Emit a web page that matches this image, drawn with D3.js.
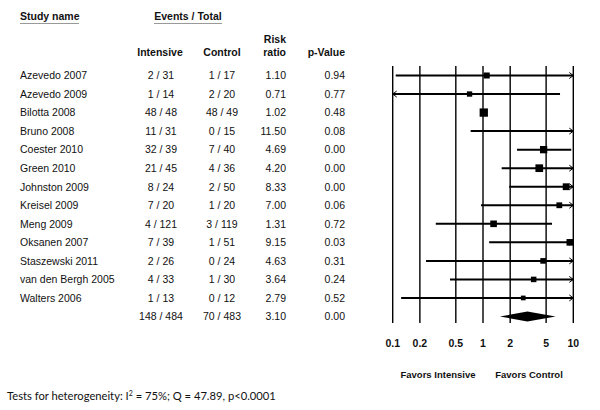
<!DOCTYPE html>
<html>
<head>
<meta charset="utf-8">
<script src="https://cdn.jsdelivr.net/npm/d3@7"></script>
<style>
  body { margin: 0; background: #fff; }
  svg text { font-family: "Liberation Sans", Arial, sans-serif; fill: #111; }
</style>
</head>
<body>
<div id="chart"></div>
<script>
// study table
const studies = ["Azevedo 2007", "Azevedo 2009", "Bilotta 2008", "Bruno 2008", "Coester 2010", "Green 2010",
    "Johnston 2009", "Kreisel 2009", "Meng 2009", "Oksanen 2007", "Staszewski 2011", "van den Bergh 2005", "Walters 2006", ""];
const intensive = ["2 / 31", "1 / 14", "48 / 48", "11 / 31", "32 / 39", "21 / 45", "8 / 24", "7 / 20", "4 / 121", "7 / 39", "2 / 26", "4 / 33", "1 / 13", "148 / 484"];
const control = ["1 / 17", "2 / 20", "48 / 49", "0 / 15", "7 / 40", "4 / 36", "2 / 50", "1 / 20", "3 / 119", "1 / 51", "0 / 24", "1 / 30", "0 / 12", "70 / 483"];
const riskRatio = [1.10, 0.71, 1.02, 11.50, 4.69, 4.20, 8.33, 7.00, 1.31, 9.15, 4.63, 3.64, 2.79, 3.10];
const pValue = [0.94, 0.77, 0.48, 0.08, 0.00, 0.00, 0.00, 0.06, 0.72, 0.03, 0.31, 0.24, 0.52, 0.00];
// confidence limits (values beyond the axis get arrows)
const lower = [0.108, 0.05, 0.96, 0.73, 2.38, 1.61, 1.95, 0.95, 0.30, 1.17, 0.234, 0.431, 0.124, 1.54];
const upper = [40, 7.13, 1.08, 180, 9.5, 11.0, 35, 51, 5.81, 70, 92, 30, 63, 6.38];
// relative study weights (marker size)
const weights = [6, 5.3, 8.3, 0, 7.3, 7.7, 6.8, 5.8, 6.6, 6.6, 5.6, 5.5, 4.7];
const ticks = [0.1, 0.2, 0.5, 1, 2, 5, 10];

const width = 600, height = 410;

const svg = d3.select("#chart").append("svg")
    .attr("width", width)
    .attr("height", height);

const x = d3.scaleLog().domain([0.1, 10]).range([392.7, 573.3]);
const y = d3.scalePoint().domain(d3.range(studies.length)).range([75.5, 316.5]);

// headers
const hdr = svg.append("g").style("font-weight", "bold").style("font-size", "10.5px");
hdr.append("text").attr("x", 20).attr("y", 19.5).text("Study name");
hdr.append("text").attr("x", 188).attr("y", 19.5).attr("text-anchor", "middle").text("Events / Total");
hdr.append("text").attr("x", 160).attr("y", 56).attr("text-anchor", "middle").text("Intensive");
hdr.append("text").attr("x", 222).attr("y", 56).attr("text-anchor", "middle").text("Control");
hdr.append("text").attr("x", 286).attr("y", 43).attr("text-anchor", "end").text("Risk");
hdr.append("text").attr("x", 286).attr("y", 56).attr("text-anchor", "end").text("ratio");
hdr.append("text").attr("x", 345).attr("y", 56).attr("text-anchor", "end").text("p-Value");
svg.append("line").attr("x1", 20).attr("x2", 79).attr("y1", 23.5).attr("y2", 23.5).attr("stroke", "#999");
svg.append("line").attr("x1", 154).attr("x2", 222).attr("y1", 23.5).attr("y2", 23.5).attr("stroke", "#999");

// table rows
const rows = svg.append("g").style("font-size", "10.5px")
    .selectAll("g").data(studies).join("g")
    .attr("transform", (d, i) => `translate(0, ${y(i) + 3.8})`);
rows.append("text").attr("x", 20).text(d => d);
rows.append("text").attr("x", 161).attr("text-anchor", "middle").text((d, i) => intensive[i]);
rows.append("text").attr("x", 222).attr("text-anchor", "middle").text((d, i) => control[i]);
rows.append("text").attr("x", 286).attr("text-anchor", "end").text((d, i) => riskRatio[i].toFixed(2));
rows.append("text").attr("x", 345).attr("text-anchor", "end").text((d, i) => pValue[i].toFixed(2));

// grid lines
svg.append("g").selectAll("line").data(ticks).join("line")
    .attr("x1", d => x(d)).attr("x2", d => x(d))
    .attr("y1", 66).attr("y2", 323)
    .attr("stroke", "#000").attr("stroke-width", 1.4);

// tick labels
svg.append("g").style("font-weight", "bold").style("font-size", "10.5px")
    .selectAll("text").data(ticks).join("text")
    .attr("x", d => x(d)).attr("y", 346.5).attr("text-anchor", "middle")
    .text(d => d);

svg.append("text").attr("x", 438).attr("y", 377.5).attr("text-anchor", "middle")
    .style("font-weight", "bold").style("font-size", "9.5px").text("Favors Intensive");
svg.append("text").attr("x", 529).attr("y", 377.5).attr("text-anchor", "middle")
    .style("font-weight", "bold").style("font-size", "9.5px").text("Favors Control");

// study CIs and markers
const [xmin, xmax] = x.range();
const nStudy = studies.length - 1;
const ci = svg.append("g");
for (let i = 0; i < nStudy; i++) {
    const yy = y(i);
    const x1 = Math.max(xmin, x(lower[i]));
    const x2 = Math.min(xmax, x(upper[i]));
    ci.append("line").attr("x1", x1).attr("x2", x2).attr("y1", yy).attr("y2", yy)
        .attr("stroke", "#000").attr("stroke-width", 2);
    if (upper[i] > 10) {
        ci.append("path").attr("d", `M${xmax - 4},${yy - 3}L${xmax},${yy}L${xmax - 4},${yy + 3}`)
            .attr("fill", "none").attr("stroke", "#000").attr("stroke-width", 1);
    }
    if (lower[i] < 0.1) {
        ci.append("path").attr("d", `M${xmin + 4},${yy - 3}L${xmin},${yy}L${xmin + 4},${yy + 3}`)
            .attr("fill", "none").attr("stroke", "#000").attr("stroke-width", 1);
    }
    if (riskRatio[i] <= 10 && weights[i] > 0) {
        const s = weights[i];
        ci.append("rect").attr("x", x(riskRatio[i]) - s / 2).attr("y", yy - s / 2)
            .attr("width", s).attr("height", s).attr("fill", "#000");
    }
}

// pooled diamond
const t = nStudy, ty = y(t);
svg.append("path")
    .attr("d", `M${x(lower[t])},${ty}L${x(riskRatio[t])},${ty - 5}L${x(upper[t])},${ty}L${x(riskRatio[t])},${ty + 5}Z`)
    .attr("fill", "#000");

// footnote
const foot = svg.append("text").attr("x", 7).attr("y", 400)
    .style("font-family", "Lato, 'Open Sans', sans-serif").style("font-size", "11.2px");
foot.append("tspan").text("Tests for heterogeneity: I");
foot.append("tspan").attr("dy", -4).style("font-size", "7px").text("2");
foot.append("tspan").attr("dy", 4).text(" = 75%; Q = 47.89, p<0.0001");
</script>
</body>
</html>
